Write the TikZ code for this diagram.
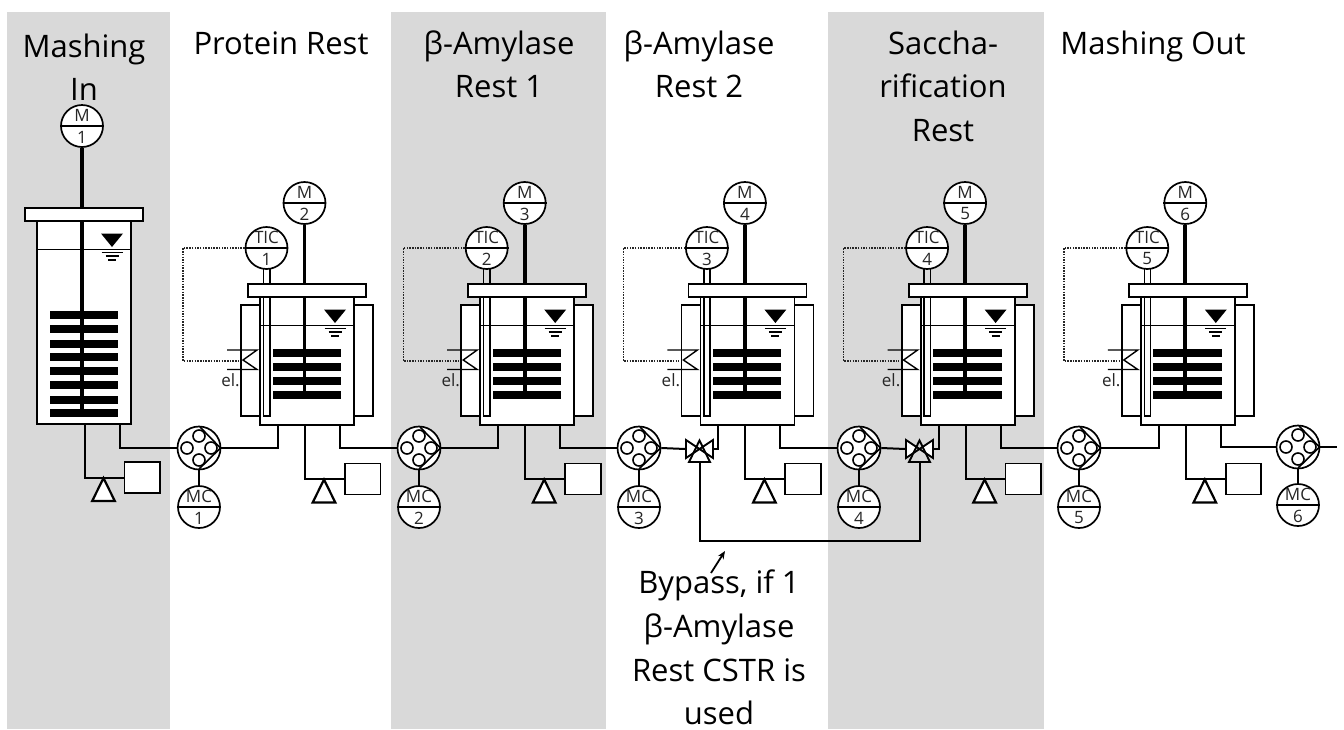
\documentclass[tikz,border=0pt]{standalone}
\usepackage{fontspec}
\setmainfont{Open Sans}
\usetikzlibrary{arrows.meta,calc}
\newcommand{\titlefont}{\fontsize{31}{31}\selectfont}
\newcommand{\tagfont}{\fontsize{17}{18}\selectfont}
\tikzset{
  band/.style={fill=black!15,draw=none},
  pipe/.style={draw=black,line width=2pt},
  shaft/.style={draw=black,line width=3.8pt},
  blade/.style={fill=black,draw=none},
  solid box/.style={draw=black,fill=white,line width=1.8pt,inner sep=0pt},
  bubble/.style={circle,draw=black,fill=white,line width=1.7pt,minimum size=42pt,inner sep=0pt},
  pumpc/.style={circle,draw=black,fill=white,line width=1.7pt,minimum size=43pt,inner sep=0pt},
  title/.style={anchor=base,font=\titlefont,inner sep=0pt},
  tag/.style={anchor=center,font=\tagfont,inner sep=0pt,text=black!85},
  ctrl/.style={draw=black!85,line width=1.4pt,dash pattern=on 1.5pt off 1.2pt},
}
% name, x, y, top text, bottom text
\newcommand{\instr}[5]{%
  \node[bubble] (#1) at (#2,#3) {};
  \draw[draw=black,line width=2.1pt] (#1.west) -- (#1.east);
  \node[tag] (#1t) at ($(#1)+(0,-11)$) {#4};
  \node[tag] (#1b) at ($(#1)+(0,11)$) {#5};
}
% name, x, y
\newcommand{\pumpsym}[3]{%
  \node[pumpc] (#1) at (#2,#3) {};
  \begin{scope}[shift={(#2,#3)}]
    \draw[line width=1.6pt] (1,-21) -- (21.5,0) -- (0,21);
    \foreach \ang in {0,90,180,270}
      \draw[line width=1.6pt,fill=white] (\ang:12) circle (6);
  \end{scope}
}
% index, x of drain, y of bar
\newcommand{\drain}[3]{%
  \node[solid box,minimum width=35.5pt,minimum height=31pt] (B#1) at (#2+57.7,#3+0.5) {};
  \draw[pipe] (D#1) |- (B#1.west);
  \begin{scope}[shift={(#2+19,#3)}]
    \draw[line width=2.2pt,fill=white,line join=miter] (0,1) -- (11.3,24) -- (-11.3,24) -- cycle;
  \end{scope}
}
% x of triangle centre, y of level
\newcommand{\level}[2]{%
  \fill[black] (#1-11,#2-15.5) -- (#1+11,#2-15.5) -- (#1,#2-2) -- cycle;
  \draw[line width=1.3pt] (#1-10.5,#2+3.2) -- (#1+10.5,#2+3.2)
    (#1-6.5,#2+7) -- (#1+6.5,#2+7) (#1-4,#2+11) -- (#1+4,#2+11);
}
% valve name, x, y
\newcommand{\valve}[3]{%
  \node[inner sep=0pt,minimum width=28pt,minimum height=18pt] (#1) at (#2,#3) {};
  \coordinate (#1b) at (#2,#3+13);
  \begin{scope}[shift={(#2,#3)}]
    \draw[line width=1.9pt,fill=white,line join=miter] (-13.5,-9) -- (13.5,9) -- (13.5,-9) -- (-13.5,9) -- cycle;
    \draw[line width=1.9pt,line join=miter] (0,-8.5) -- (10.5,13) -- (-10.5,13) -- cycle;
  \end{scope}
}
\begin{document}
\begin{tikzpicture}[x=1pt,y=-1pt]
\useasboundingbox (0,0) rectangle (1344,729);
\fill[white] (0,0) rectangle (1344,729);
\fill[band] (7,12) rectangle (170,729);
\fill[band] (391,12) rectangle (606,729);
\fill[band] (828,12) rectangle (1044,729);

% Titles
\node[title] (t1a) at (84,57) {Mashing};
\node[title] (t1b) at (84,100) {In};
\node[title] (t2) at (281,54) {Protein Rest};
\node[title] (t3a) at (499,54) {β-Amylase};
\node[title] (t3b) at (499,97) {Rest 1};
\node[title] (t4a) at (699,54) {β-Amylase};
\node[title] (t4b) at (699,97) {Rest 2};
\node[title] (t5a) at (943,54) {Saccha-};
\node[title] (t5b) at (943,97) {rification};
\node[title] (t5c) at (943,141) {Rest};
\node[title] (t6) at (1153,54) {Mashing Out};
\node[title] (by1) at (719,593) {Bypass, if 1};
\node[title] (by2) at (719,637) {β-Amylase};
\node[title] (by3) at (719,681) {Rest CSTR is};
\node[title] (by4) at (719,724) {used};

% Pumps and their controllers
\foreach \k/\px/\py/\my in {1/199/448/507,2/419/448/507,3/639/448/507,4/859/448/507,5/1079/448/507,6/1298/447/505}{
  \pumpsym{P\k}{\px}{\py}
  \instr{MC\k}{\px}{\my}{MC}{\k}
  \draw[pipe] (P\k.south) -- (MC\k.north);
}

% First vessel
\node[solid box,minimum width=94pt,minimum height=203pt] (V1body) at (84,322.5) {};
\node[solid box,minimum width=118pt,minimum height=13pt] (V1lid) at (84,214.5) {};
\instr{M1}{82}{126}{M}{1}
\draw[shaft] (M1.south) -- (V1lid.north -| M1);
\coordinate (shaftend1) at (82,413);
\draw[shaft] (V1lid.south -| M1) -- (shaftend1);
\draw[line width=0.9pt] (V1body.west |- 0,249) -- (V1body.east |- 0,249);
\level{112}{249}
\foreach \yy in {315,329,344,357,371,385,400,413}
  \fill[blade] (50,\yy-3.7) rectangle (118,\yy+3.7);
\coordinate (D1) at (84.5,424.5);
\coordinate (O1) at (119.5,424.5);
\drain{1}{84.5}{477}
\draw[pipe] (O1) |- (P1.west);

% Stirred vessels 2..6
\foreach \i/\t in {2/1,3/2,4/3,5/4,6/5}{
  \pgfmathsetmacro\dx{(\i-2)*220.2}
  \begin{scope}[xshift=\dx pt]
    \node[solid box,minimum width=32pt,minimum height=111pt] (JL\i) at (257,360.5) {};
    \node[solid box,minimum width=32pt,minimum height=111pt] (JR\i) at (357,360.5) {};
    \node[solid box,minimum width=94pt,minimum height=128pt] (V\i body) at (307,361) {};
    \node[solid box,minimum width=118pt,minimum height=13pt] (V\i lid) at (307,290.5) {};
    \instr{M\i}{304.5}{203}{M}{\i}
    \instr{TIC\t}{266.5}{248}{TIC}{\t}
    \draw[shaft] (M\i.south) -- (V\i lid.north -| M\i);
    \coordinate (shaftend\i) at (304.5,395);
    \draw[shaft] (V\i lid.south -| M\i) -- (shaftend\i);
    % thermowell
    \draw[line width=1.5pt,fill=white] (263.5,297.5) rectangle (269.8,416);
    \draw[line width=1.5pt] (263.5,269) -- (263.5,284) (269.8,269) -- (269.8,284);
    % level
    \draw[line width=0.9pt] (260,325) -- (354,325);
    \level{335}{325}
    \foreach \yy in {353,367,381,395}
      \fill[blade] (272.5,\yy-3.7) rectangle (341,\yy+3.7);
    % heater
    \draw[line width=1.4pt] (227,350) -- (257,350) -- (243,360) -- (257,369.5) -- (227,369.5);
    \node[inner sep=0pt,font=\tagfont,text=black!85] (el\i) at (230.5,380) {el.};
    \coordinate (hk\i) at (238,361);
    \coordinate (dc\i) at (183,248);
    \coordinate (dd\i) at (183,361);
    \draw[ctrl] (TIC\t.west) -- (dc\i) -- (dd\i) -- (hk\i);
    % pipes
    \coordinate (I\i) at (278,425);
    \coordinate (D\i) at (305,425);
    \coordinate (O\i) at (340,425);
    \drain{\i}{305}{478.5}
  \end{scope}
}

% Valves
\valve{VA}{699.5}{449}
\valve{VB}{919.5}{449}

% Piping between stages
\draw[pipe] (P1.east) -| (I2);
\draw[pipe] (O2) |- (P2.west);
\draw[pipe] (P2.east) -| (I3);
\draw[pipe] (O3) |- (P3.west);
\draw[pipe] (P3.east) -- (VA.west);
\draw[pipe] (VA.east) -| (I4);
\draw[pipe] (O4) |- (P4.west);
\draw[pipe] (P4.east) -- (VB.west);
\draw[pipe] (VB.east) -| (I5);
\draw[pipe] (O5) |- (P5.west);
\draw[pipe] (P5.east) -| (I6);
\draw[pipe] (O6) |- (P6.west);
\coordinate (end6) at (1337,447);
\draw[pipe] (P6.east) -- (end6);

% Bypass
\coordinate (byp) at (810,541);
\draw[pipe] (VAb) |- (byp) -| (VBb);
\coordinate (arrA) at (711,573);
\coordinate (arrB) at (725,551);
\draw[line width=1.8pt,-{Stealth[length=8pt,width=6.5pt]}] (arrA) -- (arrB);
\end{tikzpicture}
\end{document}
